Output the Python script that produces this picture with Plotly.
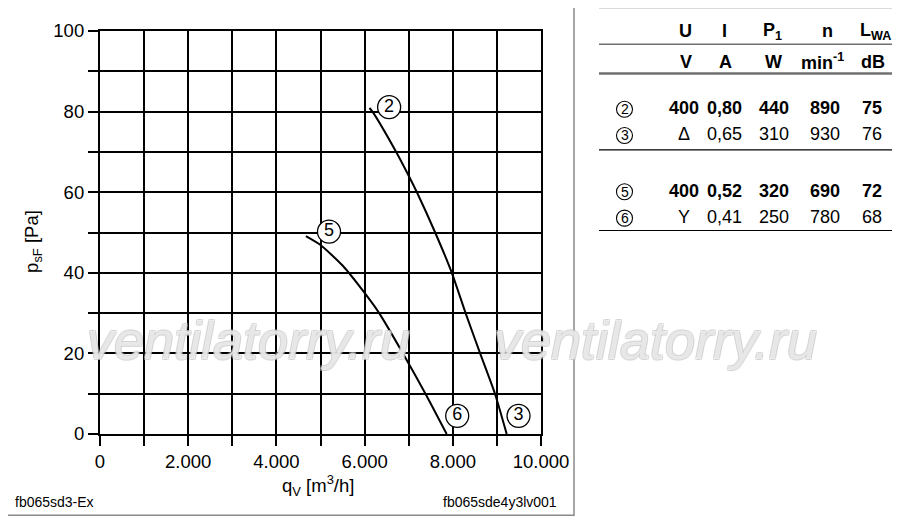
import plotly.graph_objects as go

# fan curves: q_V [m3/h], p_sF [Pa]
q_23 = [6110, 6178, 6716, 7000, 7186, 7600, 7978, 8290, 8620, 8956, 9222]
p_23 = [80.9, 80, 70, 64.1, 60, 50, 40, 30, 20, 10, 0]
q_56 = [4668, 5000, 5500, 6000, 6330, 6870, 7380, 7861]
p_56 = [49.1, 46.9, 41.8, 35, 30, 20, 10, 0]

# circled curve labels
lab_txt = ["2", "5", "6", "3"]
lab_q = [6556, 5193, 8100, 9490]
lab_p = [81.1, 50.2, 4.5, 4.5]

x_ticks = [0, 2000, 4000, 6000, 8000, 10000]
x_text = ["0", "2.000", "4.000", "6.000", "8.000", "10.000"]
y_ticks = [0, 20, 40, 60, 80, 100]
y_text = ["0", "20", "40", "60", "80", "100"]

# table at the right
head = ["U", "I", "P<sub>1</sub>", "n", "L<sub>WA</sub>"]
units = ["V", "A", "W", "min<sup>-1</sup>", "dB"]
row_lab = ["2", "3", "5", "6"]
col_U = ["400", "Δ", "400", "Y"]
col_I = ["0,80", "0,65", "0,52", "0,41"]
col_P = ["440", "310", "320", "250"]
col_n = ["890", "930", "690", "780"]
col_L = ["75", "76", "72", "68"]
row_bold = [True, False, True, False]

FONT = "Liberation Sans, Arial, sans-serif"
OFF = 8  # page body margin
L, R, T, B = 100, 541, 27, 434


def px(x):
    return (x - L) / (R - L)


def py(y):
    return (B - y) / (B - T)


def txt(x, y, t, size=18, xa="center", ya="middle", color="black"):
    return dict(x=px(x), y=py(y), text=t, showarrow=False, xref="paper", yref="paper",
                xanchor=xa, yanchor=ya, font=dict(family=FONT, size=size, color=color))


fig = go.Figure()
fig.add_trace(go.Scatter(x=q_23, y=p_23, mode="lines",
                         line=dict(color="black", width=2, shape="spline", smoothing=0.6)))
fig.add_trace(go.Scatter(x=q_56, y=p_56, mode="lines",
                         line=dict(color="black", width=2, shape="spline", smoothing=0.6)))
fig.add_trace(go.Scatter(
    x=lab_q, y=lab_p, mode="markers+text", text=lab_txt, textposition="middle center",
    textfont=dict(family=FONT, size=18, color="black"),
    marker=dict(symbol="circle", size=23, color="white", line=dict(color="black", width=1.3)),
    cliponaxis=False))

shapes = []
annots = []

# frame of the chart panel
shapes.append(dict(type="rect", xref="paper", yref="paper", x0=px(2), x1=px(574), y0=py(2), y1=py(516),
                   line=dict(color="#8a8a8a", width=1.5), layer="below"))

# table lines
for yy, col, w in [(3, "#707070", 2), (40.5, "#707070", 1.5), (70, "#707070", 2.5),
                   (147, "black", 1.2), (228.5, "black", 1.2)]:
    shapes.append(dict(type="line", xref="paper", yref="paper", x0=px(599), x1=px(900), y0=py(yy), y1=py(yy),
                       line=dict(color=col, width=w)))

head_x = [685.5, 724, 772, 827.5, 875]
unit_x = [685.5, 725, 773, 822, 873]
for i in range(5):
    annots.append(txt(head_x[i], 27, "<b>" + head[i] + "</b>"))
    annots.append(txt(unit_x[i], 58, "<b>" + units[i] + "</b>"))

col_x = [684, 724.5, 774.3, 824.5, 872.3]
row_y = [105, 131.5, 188.3, 215]
for r in range(4):
    vals = [col_U[r], col_I[r], col_P[r], col_n[r], col_L[r]]
    for i in range(5):
        t = "<b>" + vals[i] + "</b>" if row_bold[r] else vals[i]
        annots.append(txt(col_x[i], row_y[r], t))
    shapes.append(dict(type="circle", xref="paper", yref="paper", xsizemode="pixel", ysizemode="pixel",
                       xanchor=px(624.5), yanchor=py(row_y[r] + 1), x0=-8, x1=8, y0=-8, y1=8,
                       line=dict(color="black", width=1.1)))
    annots.append(txt(624.5, row_y[r] + 1, row_lab[r], size=14))

# watermark
for cx in [248, 655]:
    a = txt(cx, 339, "ventilatorry.ru", size=54, color="rgba(255,255,255,0.55)")
    a["font"]["style"] = "italic"
    a["font"]["shadow"] = ("-1px -1px 0 #c6c6c6, 1px -1px 0 #c6c6c6, "
                           "-1px 1px 0 #c6c6c6, 1px 1px 0 #c6c6c6")
    annots.append(a)

# footer
annots.append(txt(13, 503, "fb065sd3-Ex", size=14, xa="left"))
annots.append(txt(559, 503, "fb065sde4y3lv001", size=14, xa="right"))

# axis titles
annots.append(txt(318, 486, "q<sub>V</sub> [m<sup>3</sup>/h]", size=18.5))
a = txt(33, 240, "p<sub>sF</sub> [Pa]", size=18.5)
a["textangle"] = -90
annots.append(a)

axis_common = dict(showgrid=True, gridcolor="black", gridwidth=1.6, showline=True, linecolor="black",
                   linewidth=2.2, mirror=True, ticks="outside", ticklen=10, tickwidth=1.6,
                   tickcolor="black", zeroline=False, tickfont=dict(size=18.5))

fig.update_layout(
    width=900 - OFF, height=520 - OFF,
    margin=dict(l=L - OFF, r=900 - R, t=T - OFF, b=520 - B, pad=0),
    paper_bgcolor="white", plot_bgcolor="white",
    showlegend=False,
    shapes=shapes, annotations=annots,
    font=dict(family=FONT, size=18.5, color="black"),
    xaxis=dict(range=[0, 10000], tickvals=x_ticks, ticktext=x_text,
               minor=dict(dtick=1000, ticks="outside", ticklen=10, tickwidth=1.6, tickcolor="black",
                          showgrid=True, gridcolor="black", gridwidth=1.6),
               **axis_common),
    yaxis=dict(range=[0, 100], tickvals=y_ticks, ticktext=y_text,
               minor=dict(dtick=10, ticks="outside", ticklen=10, tickwidth=1.6, tickcolor="black",
                          showgrid=True, gridcolor="black", gridwidth=1.6),
               **axis_common),
)

fig.write_html("out.html")
